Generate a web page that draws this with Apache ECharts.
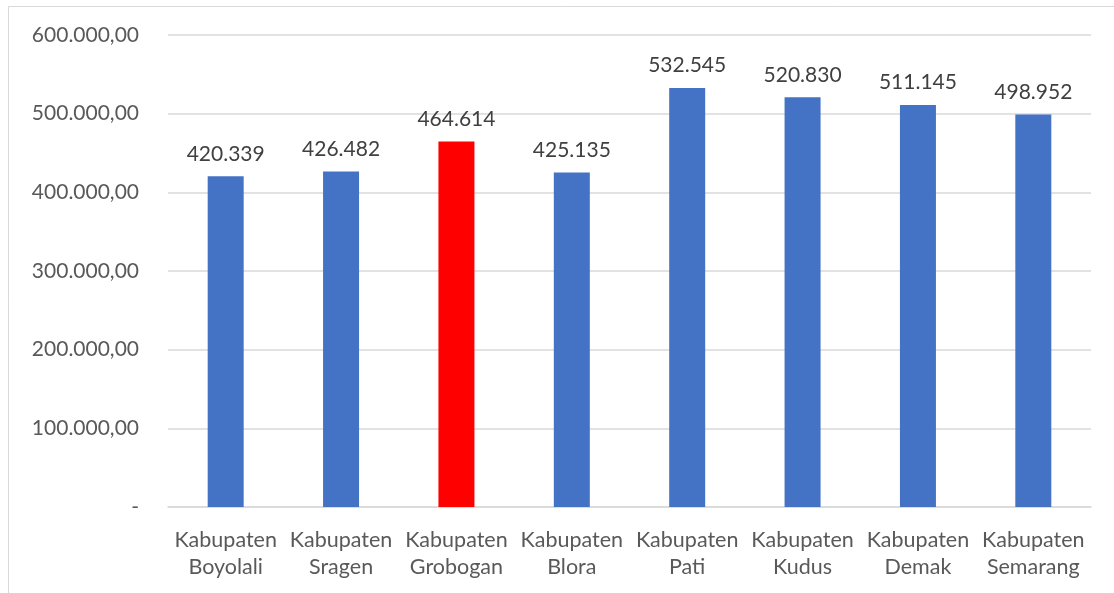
<!DOCTYPE html>
<html>
<head>
<meta charset="utf-8">
<script src="https://cdn.jsdelivr.net/npm/echarts@6/dist/echarts.min.js"></script>
<style>
  html, body { margin: 0; padding: 0; background: #fff; }
  #chart { width: 1114px; height: 593px; }
</style>
</head>
<body>
<div id="chart"></div>
<script>
var categories = ['Kabupaten\nBoyolali', 'Kabupaten\nSragen', 'Kabupaten\nGrobogan', 'Kabupaten\nBlora',
                  'Kabupaten\nPati', 'Kabupaten\nKudus', 'Kabupaten\nDemak', 'Kabupaten\nSemarang'];
var values = [420339, 426482, 464614, 425135, 532545, 520830, 511145, 498952];
var highlight = 'Kabupaten\nGrobogan';

// 1234567 -> "1.234.567"
function dots(n) {
    return String(Math.round(n)).replace(/\B(?=(\d{3})+(?!\d))/g, '.');
}

var myChart = echarts.init(document.getElementById('chart'));

var font = 'Lato, "Open Sans", sans-serif';

var option = {
    animation: false,
    backgroundColor: '#fff',
    textStyle: { fontFamily: font },
    graphic: [{
        type: 'rect',
        shape: { x: 8.5, y: 6.5, width: 1120, height: 600 },
        style: { fill: 'none', stroke: '#d9d9d9', lineWidth: 1 },
        silent: true
    }],
    grid: { left: 168, right: 23, top: 35, bottom: 86 },
    xAxis: {
        type: 'category',
        data: categories,
        axisLine: { show: true, lineStyle: { color: '#d9d9d9', width: 1.5 } },
        axisTick: { show: false },
        axisLabel: {
            color: '#595959', fontSize: 21.5, fontFamily: font,
            lineHeight: 27, margin: 20, interval: 0
        }
    },
    yAxis: {
        type: 'value',
        min: 0, max: 600000, interval: 100000,
        axisLine: { show: false },
        axisTick: { show: false },
        splitLine: { lineStyle: { color: '#d9d9d9', width: 1.5 } },
        axisLabel: {
            color: '#595959', fontSize: 21, fontFamily: font, margin: 29,
            formatter: function (v) { return v === 0 ? '-' : dots(v) + ',00'; }
        }
    },
    series: [{
        type: 'bar',
        barWidth: 36,
        data: values.map(function (v, i) {
            return {
                value: v,
                itemStyle: { color: categories[i] === highlight ? '#ff0000' : '#4472c4' }
            };
        }),
        label: {
            show: true, position: 'top', distance: 12,
            color: '#404040', fontSize: 21, fontFamily: font,
            formatter: function (p) { return dots(p.value); }
        }
    }]
};

myChart.setOption(option);
</script>
</body>
</html>
